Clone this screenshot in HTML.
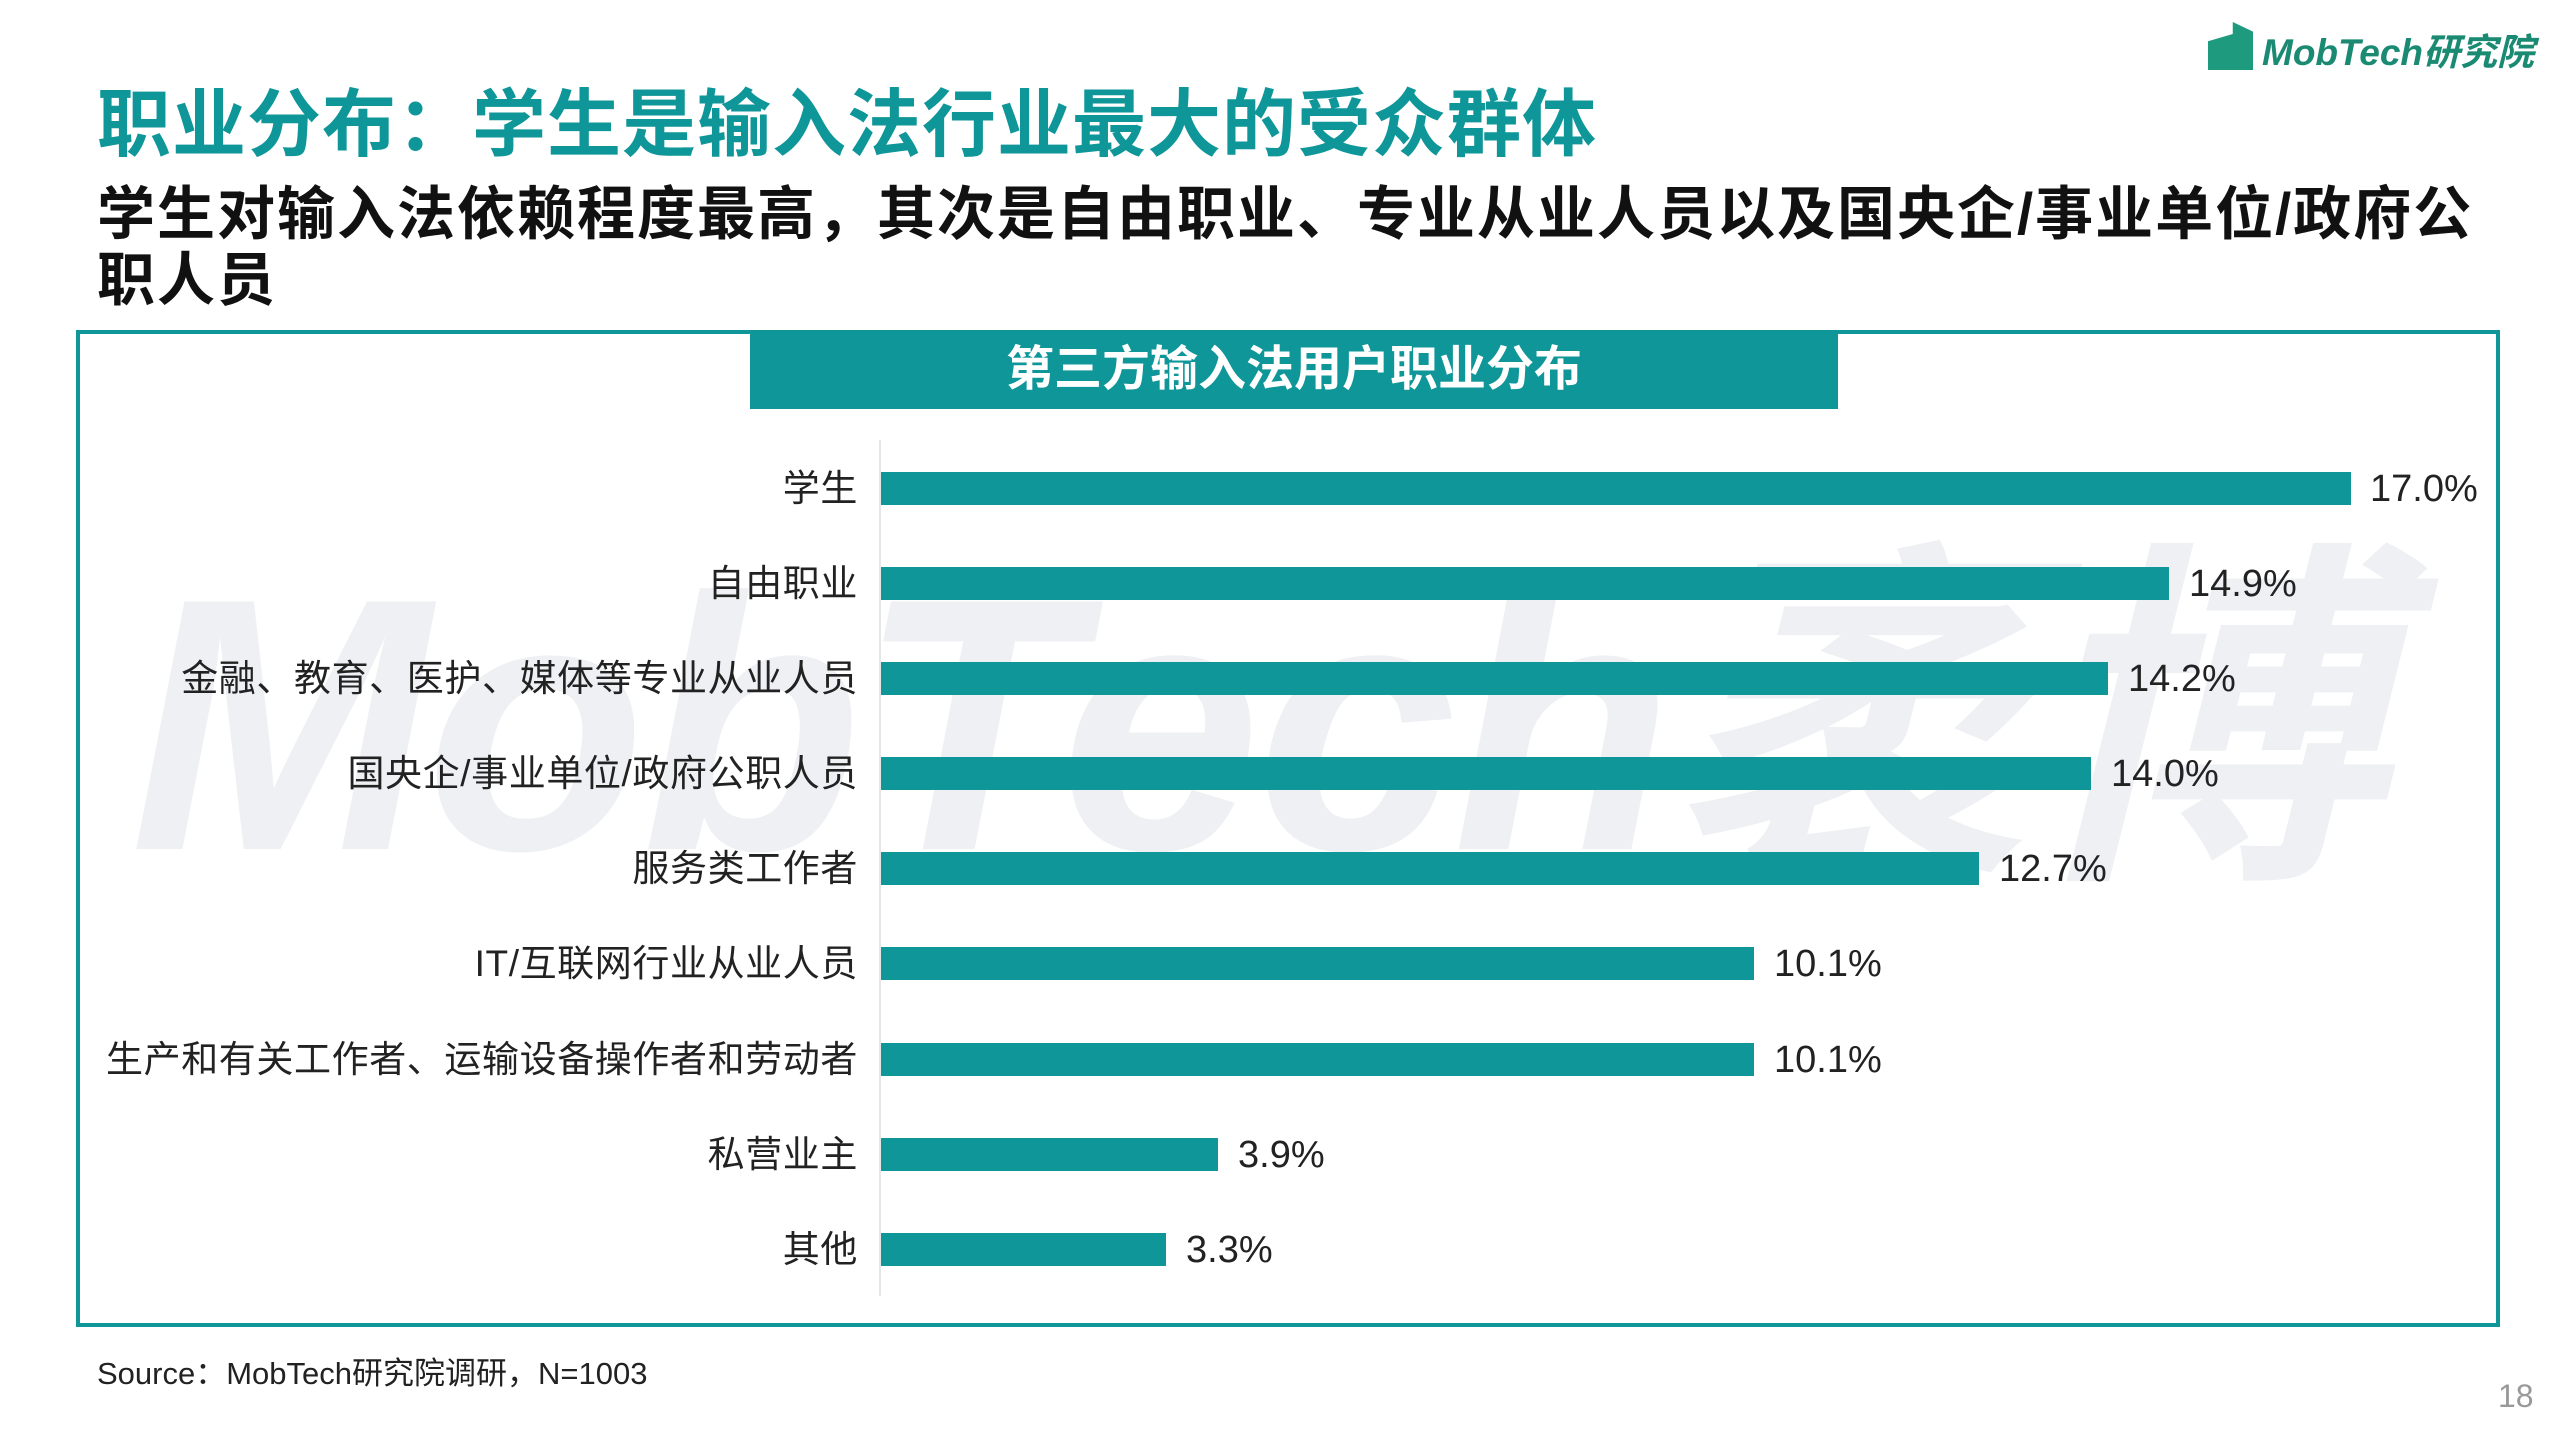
<!DOCTYPE html>
<html><head><meta charset="utf-8"><style>
*{margin:0;padding:0;box-sizing:border-box}
body{width:2560px;height:1440px;background:#fff;position:relative;overflow:hidden;font-family:"Liberation Sans","Noto Sans CJK SC",sans-serif}
.abs{position:absolute;white-space:nowrap}
.title{left:97px;top:80px;font-size:74px;font-weight:bold;color:#0e9699;line-height:90px;letter-spacing:1px}
.sub{left:97px;top:182px;font-size:58px;font-weight:bold;color:#111;line-height:66px;letter-spacing:2px}
.box{left:76px;top:330px;width:2424px;height:997px;border:4px solid #0e9699}
.banner{left:750px;top:330px;width:1088px;height:79px;background:#0e9699;color:#fff;font-size:48px;font-weight:bold;text-align:center;line-height:79px}
.wm{left:130px;top:555px;font-size:360px;font-weight:bold;font-style:italic;color:#eef0f3;line-height:340px;letter-spacing:-4px}
.axis{left:879px;top:440px;width:2px;height:856px;background:#e6e6e6}
.bar{position:absolute;left:881px;height:33px;background:#0e9699}
.cl{position:absolute;right:1702px;font-size:37px;color:#222;line-height:40px;text-align:right;white-space:nowrap;letter-spacing:0.6px}
.vl{position:absolute;font-size:38px;color:#222;line-height:40px;white-space:nowrap}
</style></head><body>
<div class="abs wm">MobTech袤博</div>
<div class="abs" style="left:2208px;top:22px;width:45px;height:48px;background:#1e9a7e;clip-path:polygon(0 40%,55% 25%,55% 0,100% 20%,100% 100%,0 100%)"></div>
<div class="abs" style="left:2262px;top:28px;font-size:37px;font-weight:bold;font-style:italic;color:#1a8a72;line-height:50px">MobTech研究院</div>
<div class="abs title">职业分布：学生是输入法行业最大的受众群体</div>
<div class="abs sub">学生对输入法依赖程度最高，其次是自由职业、专业从业人员以及国央企/事业单位/政府公<br>职人员</div>
<div class="abs box"></div>
<div class="abs banner">第三方输入法用户职业分布</div>
<div class="abs axis"></div>

<div class="bar" style="top:472px;width:1470px"></div>
<div class="bar" style="top:567px;width:1288px"></div>
<div class="bar" style="top:662px;width:1227px"></div>
<div class="bar" style="top:757px;width:1210px"></div>
<div class="bar" style="top:852px;width:1098px"></div>
<div class="bar" style="top:947px;width:873px"></div>
<div class="bar" style="top:1043px;width:873px"></div>
<div class="bar" style="top:1138px;width:337px"></div>
<div class="bar" style="top:1233px;width:285px"></div>

<div class="cl" style="top:469px">学生</div>
<div class="cl" style="top:564px">自由职业</div>
<div class="cl" style="top:659px">金融、教育、医护、媒体等专业从业人员</div>
<div class="cl" style="top:754px">国央企/事业单位/政府公职人员</div>
<div class="cl" style="top:849px">服务类工作者</div>
<div class="cl" style="top:944px">IT/互联网行业从业人员</div>
<div class="cl" style="top:1040px">生产和有关工作者、运输设备操作者和劳动者</div>
<div class="cl" style="top:1135px">私营业主</div>
<div class="cl" style="top:1230px">其他</div>

<div class="vl" style="top:469px;left:2370px">17.0%</div>
<div class="vl" style="top:564px;left:2189px">14.9%</div>
<div class="vl" style="top:659px;left:2128px">14.2%</div>
<div class="vl" style="top:754px;left:2111px">14.0%</div>
<div class="vl" style="top:849px;left:1999px">12.7%</div>
<div class="vl" style="top:944px;left:1774px">10.1%</div>
<div class="vl" style="top:1040px;left:1774px">10.1%</div>
<div class="vl" style="top:1135px;left:1238px">3.9%</div>
<div class="vl" style="top:1230px;left:1186px">3.3%</div>

<div class="abs" style="left:97px;top:1357px;font-size:31px;color:#222;line-height:34px">Source：MobTech研究院调研，N=1003</div>
<div class="abs" style="left:2498px;top:1378px;font-size:32px;color:#999;line-height:36px">18</div>
</body></html>
